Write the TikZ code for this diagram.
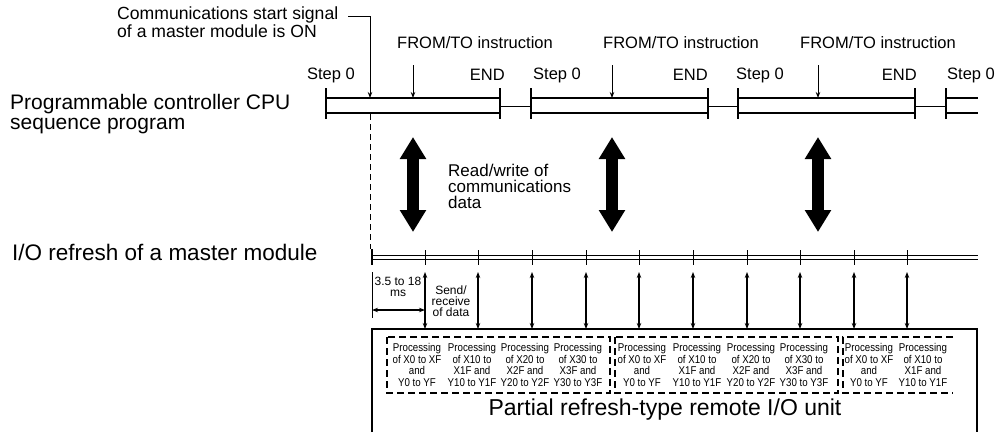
\documentclass[tikz,border=0pt]{standalone}
\usepackage{fontspec}
\setmainfont{Liberation Sans}
\newfontfamily\condfont{Liberation Sans}[FakeStretch=0.86]
\usetikzlibrary{arrows.meta}
\begin{document}
\begin{tikzpicture}[x=1pt,y=-1pt,
  lbl/.style={inner sep=0pt, font=\fontsize{16.5}{18}\selectfont},
  biglbl/.style={inner sep=0pt, align=left, font=\fontsize{21}{19.5}\selectfont},
  seqline/.style={line width=1.3pt},
  tickln/.style={line width=1.3pt},
  dline/.style={line width=0.9pt},
  sarr/.style={line width=1.1pt, {Stealth[length=6pt,width=4.5pt]}-{Stealth[length=6pt,width=4.5pt]}},
  darr/.style={line width=1pt, -{Stealth[length=6pt,width=4.5pt]}},
  bigarr/.style={line width=12pt, {Triangle[length=22pt,width=25pt]}-{Triangle[length=22pt,width=25pt]}},
  grp/.style={line width=1.6pt, dash pattern=on 7pt off 4pt},
  proc/.style={font=\condfont\fontsize{11.3}{11.5}\selectfont, align=center, inner sep=0pt},
  small/.style={font=\fontsize{12}{11}\selectfont, align=center, inner sep=0pt}]
\useasboundingbox (0,0) rectangle (997,432);

% ---------- left labels ----------
\node[biglbl, anchor=west] (seqlbl) at (10,114) {Programmable controller CPU\\sequence program};
\node[inner sep=0pt, anchor=west, font=\fontsize{22.5}{24}\selectfont] (iolbl) at (12,252) {I/O refresh of a master module};

% ---------- start signal ----------
\node[inner sep=0pt, align=left, anchor=west, font=\fontsize{17.6}{18}\selectfont] (comm) at (117,22) {Communications start signal\\of a master module is ON};
\coordinate (c0) at (348,16);
\coordinate (c1) at (370,16);
\coordinate (c2) at (370,98);
\draw[darr] (c0) -- (c1) -- (c2);
\coordinate (d0) at (370,114);
\coordinate (d1) at (370,249);
\draw[line width=1pt, dash pattern=on 6pt off 4pt] (d0) -- (d1);

% ---------- FROM/TO ----------
\node[lbl] (from1) at (475,43) {FROM/TO instruction};
\node[lbl] (from2) at (681,43) {FROM/TO instruction};
\node[lbl] (from3) at (878,43) {FROM/TO instruction};
\foreach \i/\x in {1/413,2/612,3/818}{
  \coordinate (fa\i) at (\x,65);
  \coordinate (fb\i) at (\x,98);
  \draw[darr] (fa\i) -- (fb\i);
}

% ---------- step / end labels ----------
\node[lbl] (step1) at (331,75) {Step 0};
\node[lbl, anchor=west] (step2) at (533,75) {Step 0};
\node[lbl, anchor=west] (step3) at (736,75) {Step 0};
\node[lbl, anchor=west] (step4) at (947,75) {Step 0};
\node[lbl, anchor=east] (end1) at (505,75) {END};
\node[lbl, anchor=east] (end2) at (708,75) {END};
\node[lbl, anchor=east] (end3) at (917,75) {END};

% ---------- sequence program bars ----------
\foreach \x in {326,500,531,708,738,915,946}{
  \draw[tickln] (\x,88) -- (\x,119);
}
\foreach \a/\b in {326/500,531/708,738/915}{
  \draw[seqline] (\a,98) -- (\b,98);
  \draw[seqline] (\a,113) -- (\b,113);
}
\foreach \a/\b in {500/531,708/738,915/946}{
  \draw[dline] (\a,106) -- (\b,106);
}
\draw[seqline] (946,98) -- (978,98);
\draw[seqline] (946,113) -- (978,113);

% ---------- big double arrows ----------
\foreach \i/\x in {1/413,2/612,3/818}{
  \coordinate (ba\i) at (\x,137);
  \coordinate (bb\i) at (\x,232);
  \draw[bigarr] (ba\i) -- (bb\i);
}
\node[inner sep=0pt, anchor=west, align=left, font=\fontsize{17}{16}\selectfont] (rw) at (448,186) {Read/write of\\communications\\data};

% ---------- I/O refresh line ----------
\draw[dline] (372,255.5) -- (978,255.5);
\draw[dline] (372,259) -- (978,259);
\draw[tickln] (372,249) -- (372,265);
\foreach \i/\x in {1/425,2/478,3/532,4/586,5/639,6/693,7/747,8/800,9/854,10/907}{
  \draw[line width=1pt] (\x,250) -- (\x,265);
  \coordinate (sa\i) at (\x,272);
  \coordinate (sb\i) at (\x,329);
  \draw[sarr] (sa\i) -- (sb\i);
}

% ---------- timing ----------
\coordinate (m0) at (372,272);
\coordinate (m1) at (372,318);
\draw[line width=1pt] (m0) -- (m1);
\coordinate (h0) at (372,310);
\coordinate (h1) at (425,310);
\draw[sarr] (h0) -- (h1);
\node[small] (ms) at (398,287) {3.5 to 18\\ms};
\node[small] (send) at (451,301) {Send/\\receive\\of data};

% ---------- remote I/O unit ----------
\coordinate (u0) at (372,432);
\coordinate (u1) at (372,329);
\coordinate (u2) at (977,329);
\coordinate (u3) at (977,432);
\draw[line width=1.2pt] (u0) -- (u1) -- (u2) -- (u3);

\draw[grp] (387,337) rectangle (610,393);
\draw[grp] (615,337) rectangle (838,393);
\draw[grp] (953,337) -- (843,337) -- (843,393) -- (953,393);

\foreach \g/\x in {a/417,b/642}{
  \node[proc] (p\g1) at (\x,365) {Processing\\of X0 to XF\\and\\Y0 to YF};
}
\foreach \g/\x in {a/472,b/697,c/923}{
  \node[proc] (p\g2) at (\x,365) {Processing\\of X10 to\\X1F and\\Y10 to Y1F};
}
\node[proc] (pc1) at (869,365) {Processing\\of X0 to XF\\and\\Y0 to YF};
\foreach \g/\x in {a/525,b/751}{
  \node[proc] (p\g3) at (\x,365) {Processing\\of X20 to\\X2F and\\Y20 to Y2F};
}
\foreach \g/\x in {a/578,b/804}{
  \node[proc] (p\g4) at (\x,365) {Processing\\of X30 to\\X3F and\\Y30 to Y3F};
}
\node[inner sep=0pt, font=\fontsize{23}{24}\selectfont] (partial) at (665,410) {Partial refresh-type remote I/O unit};
\end{tikzpicture}
\end{document}
